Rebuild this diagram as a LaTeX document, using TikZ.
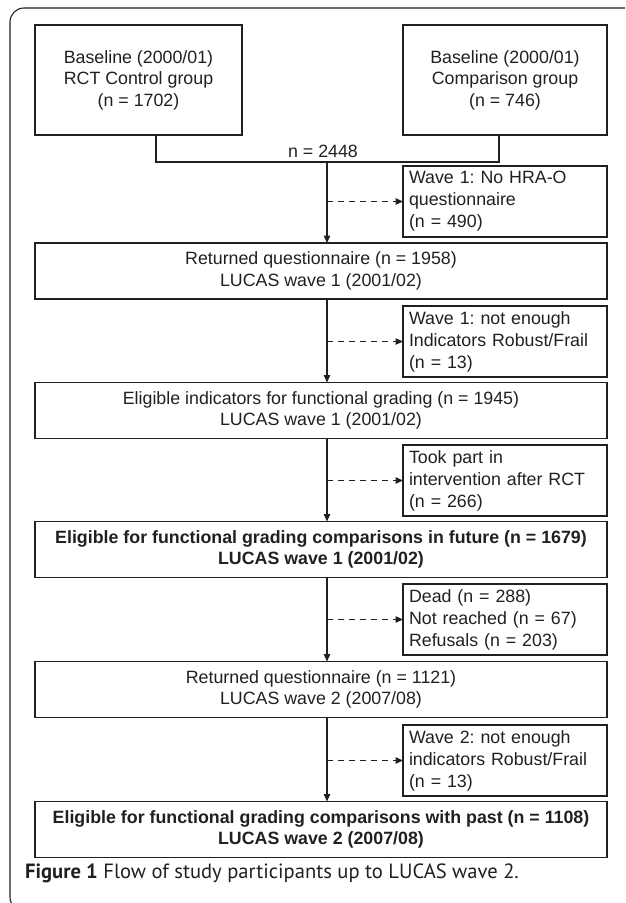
\documentclass[tikz,border=0pt]{standalone}
\usepackage{fontspec}
\setmainfont{Liberation Sans}
\newfontfamily\capfont{PT Sans}
\usetikzlibrary{arrows.meta}
\definecolor{ink}{HTML}{231F20}
\frenchspacing
\tikzset{
  mainbox/.style={draw=ink, line width=1.1pt, text=ink, inner sep=0pt, outer sep=0pt,
    minimum width=572pt, minimum height=56pt, align=center,
    font=\fontsize{17.8}{21.5}\selectfont},
  topbox/.style={draw=ink, line width=1.1pt, text=ink, inner sep=0pt, outer sep=0pt,
    minimum height=110pt, align=center,
    font=\fontsize{17.8}{21.5}\selectfont},
  sidebox/.style={draw=ink, line width=1.1pt, text=ink, inner xsep=6pt, inner ysep=0pt, outer sep=0pt,
    text width=192pt, minimum height=71pt, align=left,
    font=\fontsize{17.8}{22}\selectfont},
  boldtext/.style={font=\fontsize{17.8}{21.5}\selectfont\bfseries},
  flow/.style={draw=ink, line width=1.1pt, -{Triangle[length=7.5pt,width=6.5pt]}},
  excl/.style={draw=ink, line width=1.1pt, dash pattern=on 6pt off 5pt, -{Triangle[length=7.5pt,width=6.5pt]}},
  joinline/.style={draw=ink, line width=1.1pt}
}
\begin{document}
\begin{tikzpicture}[x=1pt,y=-1pt]
\useasboundingbox (0,0) rectangle (625,903);
\begin{scope}
\clip (0,0) rectangle (625,903);
\draw[ink, line width=1.1pt, rounded corners=14pt] (640,8) -- (10,8) -- (10,911) -- (40,911);
\end{scope}

% top boxes
\node[topbox, minimum width=207pt] (A) at (138.5,80) {Baseline (2000/01)\\RCT Control group\\(n = 1702)};
\node[topbox, minimum width=204pt] (B) at (505,80) {Baseline (2000/01)\\Comparison group\\(n = 746)};

\coordinate (jL) at (156,162);
\coordinate (jR) at (499,162);
\coordinate (jM) at (327,162);
\draw[joinline] (jL |- A.south) -- (jL) -- (jR) -- (jR |- B.south);
\node[text=ink, font=\fontsize{17.8}{21.5}\selectfont, inner sep=0pt] (ntot) at (323,151) {n = 2448};

% main boxes
\node[mainbox] (B2) at (321,271) {Returned questionnaire (n = 1958)\\LUCAS wave 1 (2001/02)};
\node[mainbox] (B3) at (321,410.5) {Eligible indicators for functional grading (n = 1945)\\LUCAS wave 1 (2001/02)};
\node[mainbox, boldtext] (B4) at (321,549.5) {Eligible for functional grading comparisons in future (n = 1679)\\LUCAS wave 1 (2001/02)};
\node[mainbox] (B5) at (321,689.5) {Returned questionnaire (n = 1121)\\LUCAS wave 2 (2007/08)};
\node[mainbox, boldtext] (B6) at (321,829.5) {Eligible for functional grading comparisons with past (n = 1108)\\LUCAS wave 2 (2007/08)};

% side boxes
\node[sidebox] (S1) at (505,201.5) {Wave 1: No HRA-O\\questionnaire\\(n = 490)};
\node[sidebox] (S2) at (505,341.5) {Wave 1: not enough\\Indicators Robust/Frail\\(n = 13)};
\node[sidebox] (S3) at (505,480.5) {Took part in\\intervention after RCT\\(n = 266)};
\node[sidebox] (S4) at (505,619.5) {Dead (n = 288)\\Not reached (n = 67)\\Refusals (n = 203)};
\node[sidebox] (S5) at (505,760.5) {Wave 2: not enough\\indicators Robust/Frail\\(n = 13)};

% vertical flow
\draw[flow] (jM) -- (jM |- B2.north);
\draw[flow] (B2.south -| jM) -- (B3.north -| jM);
\draw[flow] (B3.south -| jM) -- (B4.north -| jM);
\draw[flow] (B4.south -| jM) -- (B5.north -| jM);
\draw[flow] (B5.south -| jM) -- (B6.north -| jM);

% exclusions
\draw[excl] (S1.west -| jM) -- (S1.west);
\draw[excl] (S2.west -| jM) -- (S2.west);
\draw[excl] (S3.west -| jM) -- (S3.west);
\draw[excl] (S4.west -| jM) -- (S4.west);
\draw[excl] (S5.west -| jM) -- (S5.west);

% caption
\node[anchor=west, inner sep=0pt, text=ink, font=\capfont\fontsize{20.6}{24}\selectfont] (cap) at (25,873) {\textbf{Figure 1} Flow of study participants up to LUCAS wave 2.};
\end{tikzpicture}
\end{document}
